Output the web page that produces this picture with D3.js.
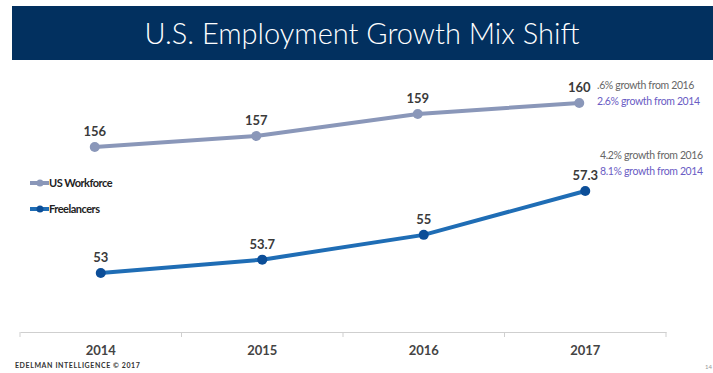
<!DOCTYPE html>
<html>
<head>
<meta charset="utf-8">
<script src="https://cdn.jsdelivr.net/npm/d3@7"></script>
<style>
  body { margin: 0; background: #fff; }
  svg { display: block; font-family: "Lato", "Open Sans", sans-serif; }
</style>
</head>
<body>
<svg id="chart" width="713" height="373"></svg>
<script>
// Chart data
var years = ["2014", "2015", "2016", "2017"];
var workforce = [156, 157, 159, 160];
var freelancers = [53, 53.7, 55, 57.3];
var workforceNotes = [".6% growth from 2016", "2.6% growth from 2014"];
var freelancerNotes = ["4.2% growth from 2016", "8.1% growth from 2014"];
var seriesNames = ["US Workforce", "Freelancers"];

var svg = d3.select("#chart");

// Title bar
svg.append("rect")
    .attr("x", 12).attr("y", 6)
    .attr("width", 701).attr("height", 54)
    .attr("fill", "#02305f");
svg.append("text")
    .attr("x", 362).attr("y", 44)
    .attr("text-anchor", "middle")
    .attr("fill", "#fff")
    .style("font-family", "'Lato', sans-serif")
    .style("font-weight", 300)
    .style("font-size", "29px")
    .text("U.S. Employment Growth Mix Shift");

// Scales: each series sits on its own vertical scale
var x = d3.scaleBand().domain(years).range([20, 666]);
var xW = d3.scaleBand().domain(years).range([14, 660]);
var yW = d3.scaleLinear().domain([156, 160]).range([147, 103]);
var yF = d3.scaleLinear().domain([53, 57.3]).range([273, 191]);

function cx(sc) { return function(d, i) { return sc(years[i]) + sc.bandwidth() / 2; }; }

// x axis
var axis = svg.append("g")
    .attr("transform", "translate(0,332)")
    .call(d3.axisBottom(x).tickSize(0).tickPadding(14));
axis.select(".domain").attr("stroke", "#cfcfcf");
axis.selectAll("text")
    .attr("fill", "#444")
    .style("font-size", "13px")
    .style("font-weight", "bold")
    .style("font-family", "'Lato', sans-serif");
axis.selectAll(".sep")
    .data(d3.range(years.length + 1))
    .enter().append("line")
    .attr("class", "sep")
    .attr("x1", d => x.range()[0] + d * x.step())
    .attr("x2", d => x.range()[0] + d * x.step())
    .attr("y1", 0).attr("y2", 5)
    .attr("stroke", "#cfcfcf");

function drawSeries(vals, sx, sy, lineCol, dotCol, fmt) {
    var line = d3.line().x(cx(sx)).y(d => sy(d));
    svg.append("path")
        .datum(vals)
        .attr("d", line)
        .attr("fill", "none")
        .attr("stroke", lineCol)
        .attr("stroke-width", 4);
    svg.append("g").selectAll("circle")
        .data(vals).enter().append("circle")
        .attr("cx", cx(sx))
        .attr("cy", d => sy(d))
        .attr("r", 5)
        .attr("fill", dotCol);
    svg.append("g").selectAll("text")
        .data(vals).enter().append("text")
        .attr("x", cx(sx))
        .attr("y", d => sy(d) - 11)
        .attr("text-anchor", "middle")
        .attr("fill", "#3a3a3a")
        .style("font-size", "13px")
        .style("font-weight", "bold")
        .text(fmt);
}

drawSeries(workforce, xW, yW, "#8a97b9", "#8a97b9", d => d);
drawSeries(freelancers, x, yF, "#1f6db5", "#0c4e98", d => d);

// Growth notes
function notes(list, nx, ny) {
    svg.append("g").selectAll("text")
        .data(list).enter().append("text")
        .attr("x", nx)
        .attr("y", (d, i) => ny + i * 16)
        .attr("fill", (d, i) => i === 0 ? "#666" : "#6a5cc4")
        .style("font-size", "10.5px")
        .style("letter-spacing", "-0.35px")
        .text(d => d);
}
notes(workforceNotes, 597, 89);
notes(freelancerNotes, 600, 159);

// Legend
var legend = svg.append("g").selectAll("g")
    .data(seriesNames).enter().append("g")
    .attr("transform", (d, i) => "translate(30," + (183 + i * 26) + ")");
legend.append("line")
    .attr("x1", 0).attr("x2", 19)
    .attr("stroke", (d, i) => i === 0 ? "#8a97b9" : "#1f6db5")
    .attr("stroke-width", 4);
legend.append("circle")
    .attr("cx", 10).attr("r", 3.5)
    .attr("fill", (d, i) => i === 0 ? "#8a97b9" : "#0c4e98");
legend.append("text")
    .attr("x", 19).attr("y", 4)
    .attr("fill", "#222")
    .style("font-size", "11px")
    .style("font-weight", "bold")
    .style("letter-spacing", "-0.5px")
    .text(d => d);

// Footer
svg.append("text")
    .attr("x", 15).attr("y", 368)
    .attr("fill", "#333")
    .style("font-size", "7px")
    .style("font-weight", "bold")
    .style("letter-spacing", "0.6px")
    .text("EDELMAN INTELLIGENCE \u00a9 2017");
svg.append("text")
    .attr("x", 705).attr("y", 369)
    .attr("fill", "#999")
    .style("font-size", "6px")
    .text("14");
</script>
</body>
</html>
